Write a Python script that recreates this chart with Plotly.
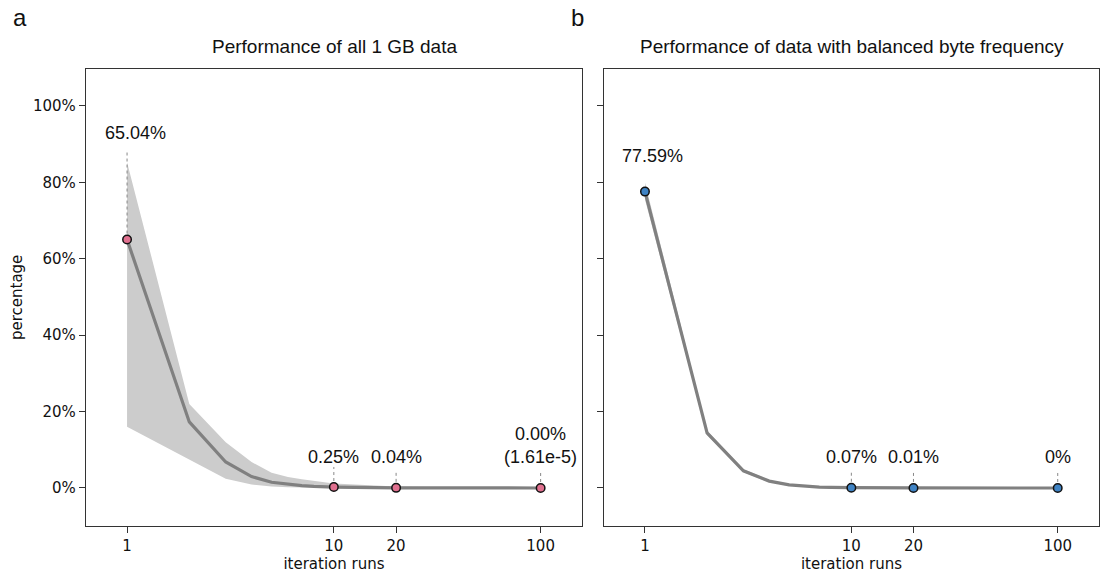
import math
import plotly.graph_objects as go

# ---- data (percent) ----
runs = [1, 2, 3, 4, 5, 6, 7, 8, 9, 10, 20, 30, 40, 50, 60, 70, 80, 90, 100]

a_mean = [65.04, 17.3, 6.8, 3.0, 1.5, 0.9, 0.6, 0.42, 0.32, 0.25, 0.04, 0.015, 0.008, 0.004, 0.002, 0.001, 0.0005, 0.0003, 0.0000161]
a_upper = [85.3, 22.0, 12.0, 6.8, 4.0, 2.9, 2.3, 1.9, 1.5, 1.2, 0.4, 0.2, 0.1, 0.06, 0.04, 0.03, 0.02, 0.015, 0.01]
a_lower = [16.0, 7.3, 2.4, 0.9, 0.4, 0.2, 0.1, 0.06, 0.04, 0.02, 0.005, 0.002, 0.001, 0.0, 0.0, 0.0, 0.0, 0.0, 0.0]

b_mean = [77.59, 14.4, 4.5, 1.8, 0.8, 0.4, 0.25, 0.15, 0.1, 0.07, 0.01, 0.005, 0.002, 0.001, 0.0, 0.0, 0.0, 0.0, 0.0]
b_upper = [80.0, 15.0, 4.9, 2.1, 1.0, 0.55, 0.35, 0.22, 0.16, 0.12, 0.03, 0.015, 0.01, 0.005, 0.003, 0.002, 0.001, 0.001, 0.001]
b_lower = [75.5, 13.8, 4.1, 1.5, 0.6, 0.28, 0.16, 0.09, 0.05, 0.03, 0.0, 0.0, 0.0, 0.0, 0.0, 0.0, 0.0, 0.0, 0.0]

marked_runs = [1, 10, 20, 100]
a_marked = [65.04, 0.25, 0.04, 0.0000161]
b_marked = [77.59, 0.07, 0.01, 0.0]
a_labels = ["65.04%", "0.25%", "0.04%", "0.00%<br>(1.61e-5)"]
b_labels = ["77.59%", "0.07%", "0.01%", "0%"]

y_ticks = [0, 20, 40, 60, 80, 100]
y_ticktext = ["0%", "20%", "40%", "60%", "80%", "100%"]
x_ticks = [1, 10, 20, 100]

titles = ["Performance of all 1 GB data", "Performance of data with balanced byte frequency"]
marker_colors = ["#e0708f", "#3f83c4"]

FONT = "Liberation Sans, Arial, sans-serif"
TICKFONT = "DejaVu Sans, sans-serif"
LINE_GRAY = "#808080"
BAND = "#cccccc"

W, H = 1100, 579
BOX_TOP, BOX_BOT = 68.7, 526
A_L, A_R = 86, 582
B_L, B_R = 604, 1099

fig = go.Figure()

panels = [
    ("x", "y", a_mean, a_upper, a_lower),
    ("x2", "y2", b_mean, b_upper, b_lower),
]

for xa, ya, mean, up, lo in panels:
    fig.add_trace(go.Scatter(x=runs, y=[v / 100 for v in up], mode="lines",
                             line=dict(width=0, color=BAND), xaxis=xa, yaxis=ya,
                             showlegend=False, hoverinfo="skip"))
    fig.add_trace(go.Scatter(x=runs, y=[v / 100 for v in lo], mode="lines",
                             line=dict(width=0, color=BAND), fill="tonexty",
                             fillcolor=BAND, xaxis=xa, yaxis=ya,
                             showlegend=False, hoverinfo="skip"))
    fig.add_trace(go.Scatter(x=runs, y=[v / 100 for v in mean], mode="lines",
                             line=dict(width=3.2, color=LINE_GRAY), xaxis=xa, yaxis=ya,
                             showlegend=False))

# dashed connector lines (top end, in percent)
a_dash_top = [88.5, 5.5, 4.0, 4.5]
b_dash_top = [0.0, 4.0, 4.0, 4.0]
for xa, ya, marked, tops in [("x", "y", a_marked, a_dash_top), ("x2", "y2", b_marked, b_dash_top)]:
    for r, v, t in zip(marked_runs, marked, tops):
        if t <= v:
            continue
        fig.add_trace(go.Scatter(x=[r, r], y=[v / 100, t / 100], mode="lines",
                                 line=dict(width=1, color="#888888", dash="dot"),
                                 xaxis=xa, yaxis=ya, showlegend=False, hoverinfo="skip"))

for xa, ya, marked, mc in [("x", "y", a_marked, marker_colors[0]), ("x2", "y2", b_marked, marker_colors[1])]:
    fig.add_trace(go.Scatter(x=marked_runs, y=[v / 100 for v in marked], mode="markers",
                             marker=dict(size=8.5, color=mc, line=dict(width=1.5, color="#111111")),
                             xaxis=xa, yaxis=ya, showlegend=False))

# value labels
a_label_y = [93.0, 8.1, 8.1, 11.0]
b_label_y = [87.0, 8.1, 8.1, 8.1]
for xa, ya, labels, ly in [("x", "y", a_labels, a_label_y), ("x2", "y2", b_labels, b_label_y)]:
    for i, (r, t, yy) in enumerate(zip(marked_runs, labels, ly)):
        fig.add_annotation(x=math.log10(r), y=yy / 100, xref=xa, yref=ya, text=t,
                           showarrow=False, xshift=8 if i == 0 else 0, xanchor="center",
                           font=dict(family=FONT, size=18, color="#111111"),
                           align="center")

xr = [-0.1985, 2.2]
axis_common = dict(type="log", range=xr, tickvals=x_ticks,
                   ticktext=[str(v) for v in x_ticks], ticks="outside", ticklen=6,
                   tickcolor="#333333", showline=True, linecolor="#333333", linewidth=1.3,
                   mirror=True, showgrid=False, zeroline=False,
                   tickfont=dict(family=TICKFONT, size=15, color="#111111"),
                   title=dict(text="iteration runs", font=dict(family=TICKFONT, size=15, color="#111111"),
                              standoff=4))
yaxis_common = dict(range=[-0.0995, 1.0976], tickvals=[v / 100 for v in y_ticks], ticks="outside",
                    ticklen=6, tickcolor="#333333", showline=True, linecolor="#333333",
                    linewidth=1.3, mirror=True, showgrid=False, zeroline=False,
                    tickfont=dict(family=TICKFONT, size=15, color="#111111"))

fig.update_layout(
    width=W, height=H, margin=dict(l=0, r=0, t=0, b=0),
    paper_bgcolor="white", plot_bgcolor="white",
    xaxis=dict(domain=[A_L / W, A_R / W], anchor="y", **axis_common),
    xaxis2=dict(domain=[B_L / W, B_R / W], anchor="y2", **axis_common),
    yaxis=dict(domain=[1 - BOX_BOT / H, 1 - BOX_TOP / H], anchor="x", ticktext=y_ticktext,
               title=dict(text="percentage", font=dict(family=TICKFONT, size=15, color="#111111"),
                          standoff=6), **yaxis_common),
    yaxis2=dict(domain=[1 - BOX_BOT / H, 1 - BOX_TOP / H], anchor="x2", showticklabels=False,
                **yaxis_common),
)

# panel titles and letters
for cx, t in [((A_L + A_R) / 2 / W, titles[0]), ((B_L + B_R) / 2 / W, titles[1])]:
    fig.add_annotation(x=cx, y=1 - 46.5 / H, xref="paper", yref="paper", text=t,
                       showarrow=False, xanchor="center", yanchor="middle",
                       font=dict(family=FONT, size=19, color="#111111"))
for lx, letter in [(11 / W, "a"), (569 / W, "b")]:
    fig.add_annotation(x=lx, y=1 - 17 / H, xref="paper", yref="paper", text=letter,
                       showarrow=False, xanchor="left", yanchor="middle",
                       font=dict(family=FONT, size=24, color="#111111"))

fig.write_html("out.html")
